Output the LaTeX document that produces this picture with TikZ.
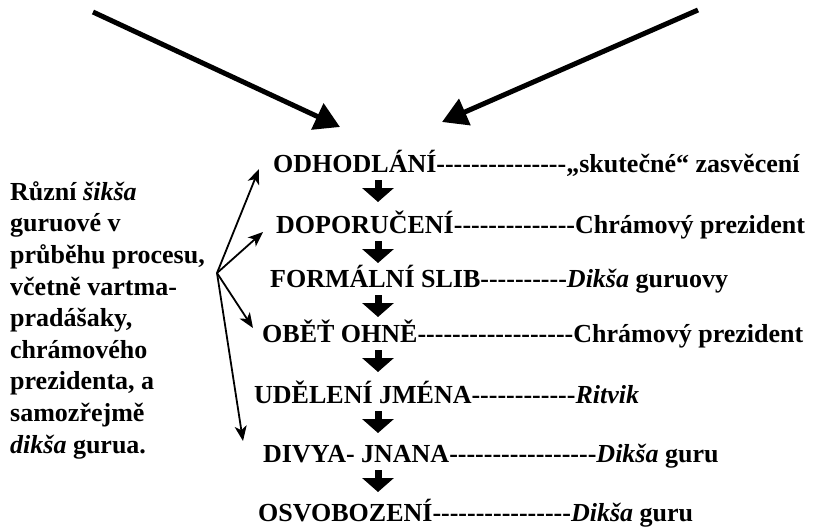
\documentclass[tikz,border=0pt]{standalone}
\usepackage{fontspec}
\setmainfont{Liberation Serif}
\usetikzlibrary{arrows.meta}
\ExplSyntaxOn
\NewDocumentCommand\dashrun{m}{\prg_replicate:nn{#1}{-\kern0pt}}
\ExplSyntaxOff
\begin{document}
\begin{tikzpicture}[x=1pt,y=-1pt,
  txt/.style={font=\fontsize{26}{31.6}\selectfont\bfseries, inner sep=0pt, anchor=base west},
  flow/.style={line width=7pt, -{Triangle[length=14pt,width=31pt]}},
  fan/.style={line width=1.8pt, -{Stealth[length=15pt,width=12pt,inset=4pt]}},
  big/.style={line width=5pt, -{Triangle[length=25pt,width=28pt]}}]
\useasboundingbox (0,0) rectangle (816,528);
% rows
\node[txt] (r1) at (273,172) {ODHODLÁNÍ\dashrun{15}„skutečné“ zasvěcení};
\node[txt] (r2) at (276,233) {DOPORUČENÍ\dashrun{14}Chrámový prezident};
\node[txt] (r3) at (270,287) {FORMÁLNÍ SLIB\dashrun{10}\textit{Dikša} guruovy};
\node[txt] (r4) at (262,342) {OBĚŤ OHNĚ\dashrun{18}Chrámový prezident};
\node[txt] (r5) at (254,403) {UDĚLENÍ JMÉNA\dashrun{12}\textit{Ritvik}};
\node[txt] (r6) at (263,462) {DIVYA- JNANA\dashrun{17}\textit{Dikša} guru};
\node[txt] (r7) at (258,521) {OSVOBOZENÍ\dashrun{16}\textit{Dikša} guru};
% flow arrows
\foreach \b [count=\i] in {172,233,287,342,403,462} {
  \coordinate (s\i) at (378,\b+8);
  \coordinate (e\i) at (378,\b+30);
  \draw[flow] (s\i) -- (e\i);
}
% left text (base = last line)
\node[txt, align=left] (left) at (10,453) {Různí \textit{šikša}\\ guruové v\\ průběhu procesu,\\ včetně vartma-\\ pradášaky,\\ chrámového\\ prezidenta, a\\ samozřejmě\\ \textit{dikša} gurua.};
% fan
\coordinate (o) at (217,273);
\coordinate (t1) at (259,169);
\coordinate (t2) at (263,232);
\coordinate (t3) at (253,328);
\coordinate (t4) at (243,441);
\foreach \t in {t1,t2,t3,t4} \draw[fan] (o) -- (\t);
% top arrows
\coordinate (a1) at (93,12);
\coordinate (b1) at (340,127);
\coordinate (a2) at (698,10);
\coordinate (b2) at (442,122);
\draw[big] (a1) -- (b1);
\draw[big] (a2) -- (b2);
\end{tikzpicture}
\end{document}
